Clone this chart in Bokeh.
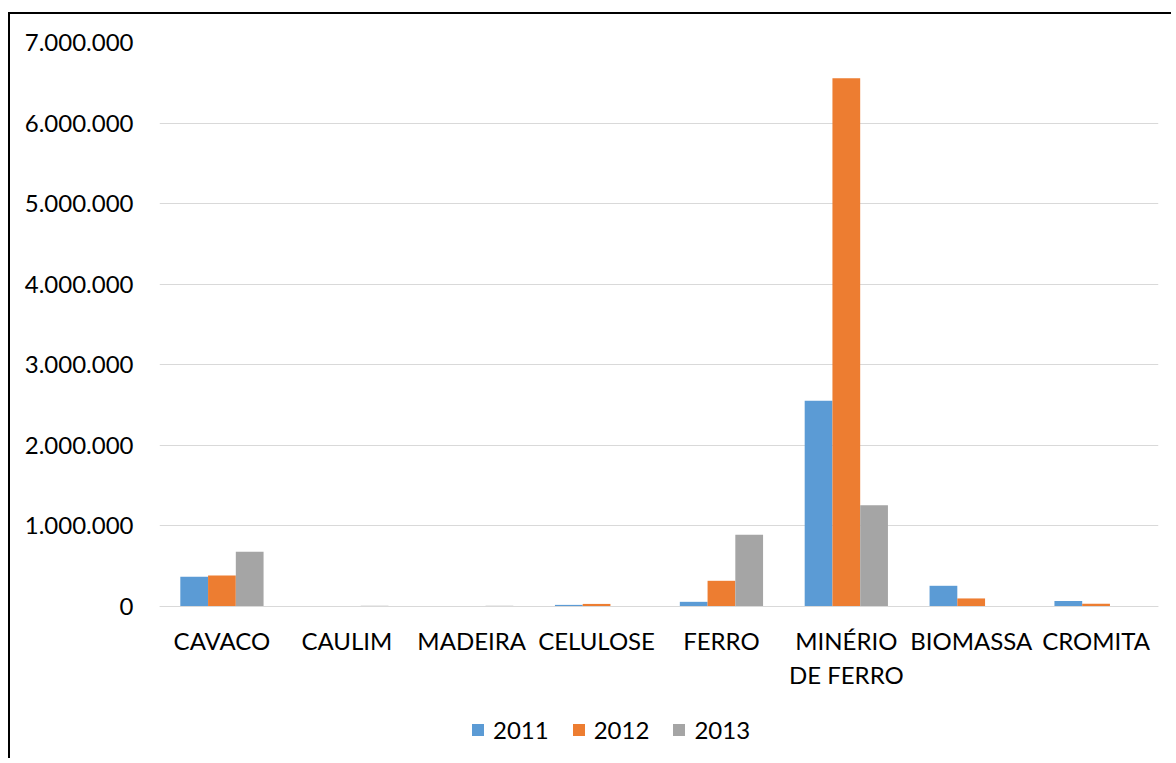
from bokeh.plotting import figure
from bokeh.models import FactorRange, Range1d, FixedTicker, Legend, LegendItem
from bokeh.transform import dodge
from bokeh.embed import file_html
from bokeh.resources import INLINE
from bokeh.models import ColumnDataSource

categories = ["CAVACO", "CAULIM", "MADEIRA", "CELULOSE", "FERRO",
              "MINÉRIO\nDE FERRO", "BIOMASSA", "CROMITA"]
years = ["2011", "2012", "2013"]
v2011 = [370000, 0, 0, 20000, 58000, 2555000, 257000, 67000]
v2012 = [386000, 0, 0, 32000, 319000, 6555000, 100000, 34000]
v2013 = [680000, 9000, 9000, 6000, 890000, 1256000, 0, 0]
colors = ["#5B9BD5", "#ED7D31", "#A5A5A5"]
y_ticks = [0, 1000000, 2000000, 3000000, 4000000, 5000000, 6000000, 7000000]

FONT = "Lato"

# layout geometry (canvas pixels)
W, H = 1163, 746
TOP, LEFT, RIGHT = 28, 149, 15
ZERO_PX = 592          # y pixel of the value 0 inside the canvas
ymax = y_ticks[-1]
ymin = -ymax * (H - ZERO_PX) / (ZERO_PX - TOP)

src = ColumnDataSource(dict(cat=categories, y2011=v2011, y2012=v2012, y2013=v2013))

p = figure(x_range=FactorRange(factors=categories, range_padding=0),
           y_range=Range1d(ymin, ymax),
           width=W, height=H, output_backend="svg", toolbar_location=None,
           min_border_left=LEFT, min_border_right=RIGHT, min_border_top=TOP,
           min_border_bottom=0)
p.styles = {"margin-left": "8px", "margin-top": "12px",
            "border-left": "2px solid #000", "border-top": "2px solid #000"}

bw = 1 / 4.5
renderers = []
for i, (yr, col) in enumerate(zip(years, colors)):
    r = p.vbar(x=dodge("cat", (i - 1) * bw, range=p.x_range), top="y" + yr,
               bottom=0, width=bw, source=src, fill_color=col, line_color=None)
    renderers.append(r)

p.outline_line_color = None
p.xgrid.grid_line_color = None
p.ygrid.grid_line_color = "#d9d9d9"
p.ygrid.grid_line_width = 1
p.ygrid.ticker = FixedTicker(ticks=y_ticks)

p.yaxis.ticker = FixedTicker(ticks=y_ticks)
p.yaxis.major_label_overrides = {t: f"{t:,}".replace(",", ".") for t in y_ticks}
p.yaxis.axis_line_color = None
p.yaxis.major_tick_line_color = None
p.yaxis.minor_tick_line_color = None
p.yaxis.major_label_standoff = 20
p.yaxis.major_label_text_font = FONT
p.yaxis.major_label_text_font_size = "24px"
p.yaxis.major_label_text_color = "#000000"

p.xaxis.fixed_location = 0
p.xaxis.axis_line_color = "#d9d9d9"
p.xaxis.axis_line_width = 1
p.xaxis.major_tick_line_color = None
p.xaxis.minor_tick_line_color = None
p.xaxis.major_label_standoff = 13
p.xaxis.major_label_text_font = FONT
p.xaxis.major_label_text_font_size = "24px"
p.xaxis.major_label_text_color = "#000000"
p.xaxis.major_label_text_line_height = 1.2

legend = Legend(items=[LegendItem(label=yr, renderers=[r]) for yr, r in zip(years, renderers)],
                orientation="horizontal", location=(311, 16),
                padding=0, margin=0, spacing=22, label_standoff=8,
                glyph_width=15, glyph_height=15,
                label_text_font=FONT, label_text_font_size="24px",
                label_text_color="#000000", border_line_color=None,
                background_fill_alpha=0)
p.add_layout(legend, "center")

open("out.html", "w").write(file_html(p, INLINE))
